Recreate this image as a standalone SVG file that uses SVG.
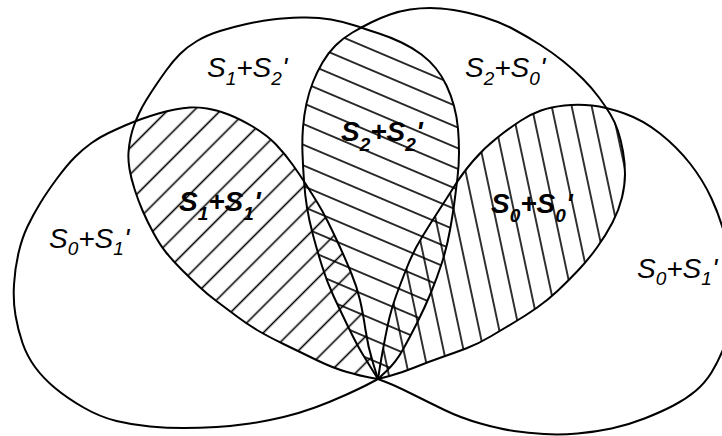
<svg xmlns="http://www.w3.org/2000/svg" xmlns:xlink="http://www.w3.org/1999/xlink" width="722" height="436" viewBox="0 0 722 436">
<style>
.outline{fill:none;stroke:#000;stroke-width:2;stroke-linejoin:round}
.hl{stroke:#000;stroke-width:1.6;fill:none}
.lbl{font-family:"Liberation Sans",Arial,sans-serif;font-style:italic;font-size:28px;fill:#000}
.blbl{font-family:"Liberation Sans",Arial,sans-serif;font-style:italic;font-weight:bold;font-size:28px;fill:#000}
.sub{font-size:19px}
</style>
<defs>
<path id="pL" d="M378,379 L369.5,383.5 Q361,388 345.5,395 Q330,402 315,407.5 Q300,413 283.5,417 Q267,421 250,423.5 Q233,426 216.5,427 Q200,428 183.5,428 Q167,428 150,426.5 Q133,425 116.5,421 Q100,417 83.5,407.5 Q67,398 55,388 Q43,378 35,367 Q27,356 22.5,343 Q18,330 15.5,315.5 Q13,301 14,284.5 Q15,268 18.5,253 Q22,238 27.5,226.5 Q33,215 40,203.5 Q47,192 57,178.5 Q67,165 75,157 Q83,149 91.5,143 Q100,137 108.5,133 Q117,129 125,125.5 Q133,122 141.5,119 Q150,116 158.5,113.5 Q167,111 175,109.5 Q183,108 190,107.5 Q197,107 207,108.5 Q217,110 228.5,114.5 Q240,119 253.5,127 Q267,135 276,144.5 Q285,154 292.5,164.5 Q300,175 306,184.5 Q312,194 317,202 Q322,210 327.5,221 Q333,232 339,245 Q345,258 351,272.5 Q357,287 360,300 Q363,313 365.5,330 Q368,347 373,363 L378,379 Z"/>
<path id="pU" d="M378,379 L369.5,377.5 Q361,376 347,372 Q333,368 316.5,360 Q300,352 283.5,344 Q267,336 257,330 Q247,324 237,316.5 Q227,309 217,301.5 Q207,294 198.5,286 Q190,278 181.5,269.5 Q173,261 166.5,253 Q160,245 153.5,233 Q147,221 142.5,210.5 Q138,200 134.5,189 Q131,178 129.5,169 Q128,160 128.5,152.5 Q129,145 130.5,138 Q132,131 134,125.5 Q136,120 139,113.5 Q142,107 146,100.5 Q150,94 155,86.5 Q160,79 166.5,70 Q173,61 180,54 Q187,47 197,41 Q207,35 220,31 Q233,27 246.5,24 Q260,21 272.5,19.5 Q285,18 301,17.5 Q317,17 331,19.5 Q345,22 356.5,26 Q368,30 379,33.5 Q390,37 401.5,42.5 Q413,48 421.5,54.5 Q430,61 436,68.5 Q442,76 446.5,85.5 Q451,95 454,106 Q457,117 458,128.5 Q459,140 459,152.5 Q459,165 457.5,177.5 Q456,190 454.5,201.5 Q453,213 450,230 Q447,247 442,262.5 Q437,278 431,292.5 Q425,307 417.5,322 Q410,337 403,349.5 Q396,362 387,370.5 L378,379 Z"/>
<path id="pR" d="M378,379 L373,371 Q368,363 362.5,354 Q357,345 348.5,327.5 Q340,310 333.5,296 Q327,282 322,266 Q317,250 313,235 Q309,220 307,207.5 Q305,195 304,181 Q303,167 302.5,153.5 Q302,140 303,127.5 Q304,115 306.5,103.5 Q309,92 313,82 Q317,72 322.5,62.5 Q328,53 335.5,45.5 Q343,38 352.5,32.5 Q362,27 371,22.5 Q380,18 390,14.5 Q400,11 410,9.5 Q420,8 430,8 Q440,8 453.5,10 Q467,12 483.5,17 Q500,22 514,29.5 Q528,37 540.5,45 Q553,53 563.5,61.5 Q574,70 583,79 Q592,88 599,97.5 Q606,107 610.5,114.5 Q615,122 618,131 Q621,140 623,151.5 Q625,163 625,174 Q625,185 622,197.5 Q619,210 612.5,222.5 Q606,235 597,247.5 Q588,260 578,270.5 Q568,281 558,290.5 Q548,300 536.5,308 Q525,316 514,322.5 Q503,329 490.5,336.5 Q478,344 466,348.5 Q454,353 441,357.5 Q428,362 414.5,367.5 Q401,373 389.5,376 L378,379 Z"/>
<path id="pRR" d="M378,379 L379.5,369.5 Q381,360 384,344 Q387,328 389.5,317.5 Q392,307 396,296 Q400,285 406.5,268.5 Q413,252 421.5,238 Q430,224 438.5,211 Q447,198 454.5,186 Q462,174 473,161 Q484,148 497.5,137.5 Q511,127 521,120.5 Q531,114 541,110.5 Q551,107 564.5,105.5 Q578,104 592,105.5 Q606,107 624.5,113.5 Q643,120 660,133.5 Q677,147 690,163.5 Q703,180 711.5,198.5 Q720,217 725.5,237.5 Q731,258 732.5,279 Q734,300 731.5,317.5 Q729,335 723.5,348.5 Q718,362 711.5,372.5 Q705,383 695.5,391 Q686,399 673.5,405.5 Q661,412 644.5,418.5 Q628,425 611.5,428.5 Q595,432 577.5,433.5 Q560,435 544,434 Q528,433 514,431 Q500,429 480.5,423.5 Q461,418 444.5,410 Q428,402 412,394 Q396,386 387,382.5 L378,379 Z"/>
<clipPath id="cL"><use xlink:href="#pL"/></clipPath>
<clipPath id="cU"><use xlink:href="#pU"/></clipPath>
<clipPath id="cR"><use xlink:href="#pR"/></clipPath>
<clipPath id="cRR"><use xlink:href="#pRR"/></clipPath>
<pattern id="hA" patternUnits="userSpaceOnUse" x="0" y="-0.17" width="10" height="18.74" patternTransform="rotate(-45)"><path class="hl" d="M-2,9.37 H12"/></pattern>
<pattern id="hB" patternUnits="userSpaceOnUse" x="0" y="5.155" width="10" height="19.05" patternTransform="rotate(23)"><path class="hl" d="M-2,9.525 H12"/></pattern>
<pattern id="hC" patternUnits="userSpaceOnUse" x="0" y="0.8" width="10" height="19.56" patternTransform="rotate(78)"><path class="hl" d="M-2,9.78 H12"/></pattern>
</defs>
<rect width="722" height="436" fill="#fff"/>
<g id="hatching">
<g id="hatch-S1S1" clip-path="url(#cL)"><rect width="722" height="436" fill="url(#hA)" clip-path="url(#cU)"/></g>
<g id="hatch-S2S2" clip-path="url(#cU)"><rect width="722" height="436" fill="url(#hB)" clip-path="url(#cR)"/></g>
<g id="hatch-S0S0" clip-path="url(#cR)"><rect width="722" height="436" fill="url(#hC)" clip-path="url(#cRR)"/></g>
</g>
<g id="lobes">
<g id="lobe-left"><use xlink:href="#pL" class="outline"/></g>
<g id="lobe-upper-left"><use xlink:href="#pU" class="outline"/></g>
<g id="lobe-upper-right"><use xlink:href="#pR" class="outline"/></g>
<g id="lobe-right"><use xlink:href="#pRR" class="outline"/></g>
</g>
<g id="labels">
<g id="label-S1S2"><text class="lbl" x="207" y="77">S<tspan class="sub" dy="8">1</tspan><tspan dy="-8">+S</tspan><tspan class="sub" dy="8">2</tspan><tspan dy="-8">'</tspan></text></g>
<g id="label-S2S0"><text class="lbl" x="465" y="77">S<tspan class="sub" dy="8">2</tspan><tspan dy="-8">+S</tspan><tspan class="sub" dy="8">0</tspan><tspan dy="-8">'</tspan></text></g>
<g id="label-S0S1-left"><text class="lbl" x="49" y="248">S<tspan class="sub" dy="7">0</tspan><tspan dy="-7">+S</tspan><tspan class="sub" dy="7">1</tspan><tspan dy="-7">'</tspan></text></g>
<g id="label-S0S1-right"><text class="lbl" x="637" y="278">S<tspan class="sub" dy="7">0</tspan><tspan dy="-7">+S</tspan><tspan class="sub" dy="7">1</tspan><tspan dy="-7">'</tspan></text></g>
<g id="label-S1S1"><text class="blbl" x="179" y="211">S<tspan class="sub" dy="9">1</tspan><tspan dy="-9">+S</tspan><tspan class="sub" dy="9">1</tspan><tspan dy="-9">'</tspan></text></g>
<g id="label-S2S2"><text class="blbl" x="341" y="141">S<tspan class="sub" dy="10">2</tspan><tspan dy="-10">+S</tspan><tspan class="sub" dy="10">2</tspan><tspan dy="-10">'</tspan></text></g>
<g id="label-S0S0"><text class="blbl" x="491" y="213">S<tspan class="sub" dy="9">0</tspan><tspan dy="-9">+S</tspan><tspan class="sub" dy="9">0</tspan><tspan dy="-9">'</tspan></text></g>
</g>
</svg>
